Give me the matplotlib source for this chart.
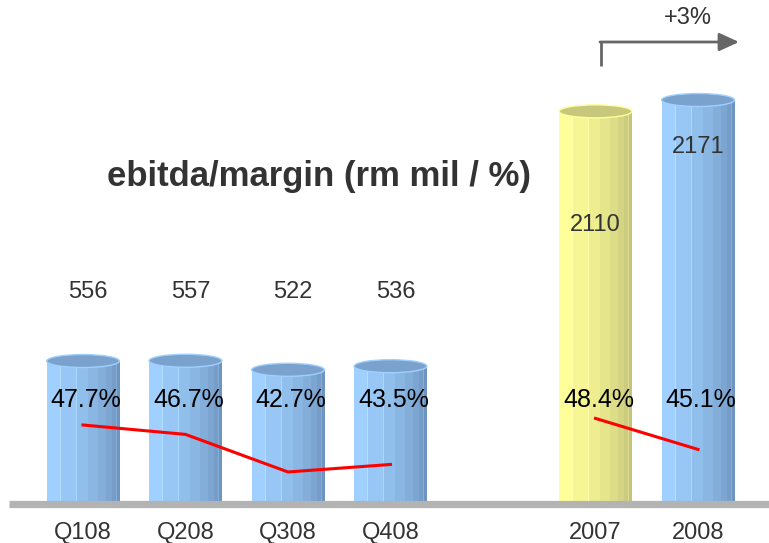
import numpy as np
import matplotlib.pyplot as plt
from matplotlib.colors import to_rgb
from matplotlib.patches import Ellipse

plt.rcParams['font.family'] = ['Liberation Sans', 'DejaVu Sans']

DPI = 100
FIGSIZE_X = 769
FIGSIZE_Y = 543

# ------ data ------------------------------------------------------------------

quarters = ['Q108', 'Q208', 'Q308', 'Q408']
q_ebitda = [556, 557, 522, 536]
q_margin = [47.7, 46.7, 42.7, 43.5]

years = ['2007', '2008']
y_ebitda = [2110, 2171]
y_margin = [48.4, 45.1]

growth_label = '+3%'

q_pos = np.array([0, 1, 2, 3])
y_pos = np.array([5, 6])

BLUE = ('#9fd0ff', '#6e95bf', '#7aa2cc')
YELLOW = ('#ffff99', '#c4c47a', '#c8c87c')

BAR_W = 0.71


def cylinder(ax, x, h, cap, colors):
    light, dark, top = colors
    l = np.array(to_rgb(light))
    d = np.array(to_rgb(dark))
    # vertical bands, getting darker and narrower to the right
    edges = [0, 0.18, 0.4, 0.56, 0.7, 0.81, 0.89, 0.95, 1.0]
    n = 200
    img = np.zeros((1, n, 3))
    for i in range(n):
        f = (i + 0.5) / n
        k = np.searchsorted(edges, f) - 1
        t = k / (len(edges) - 2)
        img[0, i] = l + (d - l) * t
        # thin highlight between bands
        if any(abs(f - e) < 0.006 for e in edges[1:-1]):
            img[0, i] = np.minimum(img[0, i] + 0.1, 1)
    ax.imshow(img, extent=(x - BAR_W / 2, x + BAR_W / 2, 0, h),
              aspect='auto', interpolation='nearest', zorder=2)
    ax.add_patch(Ellipse((x, h), BAR_W, cap, facecolor=top,
                         edgecolor=light, linewidth=1, zorder=3))


fig = plt.figure(figsize=(FIGSIZE_X / DPI, FIGSIZE_Y / DPI), dpi=DPI)

base_px = 504.5
top_px = 40
ax = fig.add_axes([0, (FIGSIZE_Y - base_px) / FIGSIZE_Y, 1,
                   (base_px - top_px) / FIGSIZE_Y])
ax2 = ax.twinx()
ax3 = ax.twinx()

q_top = 1800
y_top = 2493
px_h = base_px - top_px

# ------ quarterly bars --------------------------------------------------------

for x, v in zip(q_pos, q_ebitda):
    cylinder(ax, x, v, 13 * q_top / px_h, BLUE)

# ------ yearly bars -----------------------------------------------------------

for x, v, c in zip(y_pos, y_ebitda, [YELLOW, BLUE]):
    cylinder(ax2, x, v, 13 * y_top / px_h, c)

xmin = -83 / 102.5
xmax = xmin + FIGSIZE_X / 102.5
for a in (ax, ax2, ax3):
    a.set_xlim(xmin, xmax)
    for s in a.spines.values():
        s.set_visible(False)
    a.tick_params(left=False, right=False, labelleft=False, labelright=False,
                  bottom=False)
ax.set_ylim(0, q_top)
ax2.set_ylim(0, y_top)
ax3.set_ylim(39.24, 88.66)

# ------ margin lines ----------------------------------------------------------

ax3.plot(q_pos, q_margin, color='#ff0000', lw=2.2, zorder=5)
ax3.plot(y_pos, y_margin, color='#ff0000', lw=2.2, zorder=5)

# ------ baseline --------------------------------------------------------------

ax3.axhline(39.24, xmin=9 / FIGSIZE_X, xmax=1, color='#b3b3b3', lw=5.2,
            zorder=6, solid_capstyle='butt', clip_on=False)

# ------ labels ----------------------------------------------------------------

ax.set_xticks(list(q_pos) + list(y_pos))
ax.set_xticklabels(quarters + years, fontsize=17, color='#333333')
ax.tick_params(axis='x', pad=9)

tr = ax3.get_xaxis_transform()
for x, v in zip(q_pos, q_ebitda):
    ax3.text(x + 0.05, 0.458, str(v), transform=tr, ha='center', va='center',
             fontsize=17, color='#333333')
for x, v, yy in zip(y_pos, y_ebitda, [0.601, 0.769]):
    ax3.text(x, yy, str(v), transform=tr, ha='center', va='center',
             fontsize=17, color='#333333', zorder=10)
for x, m in zip(list(q_pos) + list(y_pos), q_margin + y_margin):
    ax3.text(x + 0.03, 0.225, '%.1f%%' % m, transform=tr, ha='center',
             va='center', fontsize=18, color='black', zorder=10)

fig.text(319 / FIGSIZE_X, 1 - 176 / FIGSIZE_Y, 'ebitda/margin (rm mil / %)',
         ha='center', va='center', fontsize=25, fontweight='bold',
         color='#333333')

# ------ growth arrow ----------------------------------------------------------

x0 = (601 - 83) / 102.5
x1 = (739 - 83) / 102.5
ya = (base_px - 42) / px_h
yb = (base_px - 66) / px_h
ax3.plot([x0, x0], [yb, ya], transform=tr, color='#666666', lw=2,
         clip_on=False, solid_capstyle='butt')
ax3.annotate('', xy=(x1, ya), xytext=(x0 - 0.01, ya), xycoords=tr,
             textcoords=tr, annotation_clip=False,
             arrowprops=dict(arrowstyle='-|>,head_length=1.2,head_width=0.55',
                             color='#666666', lw=2, shrinkA=0, shrinkB=0))
ax3.text((688 - 83) / 102.5, (base_px - 18) / px_h, growth_label,
         transform=tr, ha='center', va='center', fontsize=17,
         color='#333333', clip_on=False)

fig.savefig('out.png', dpi=DPI)
